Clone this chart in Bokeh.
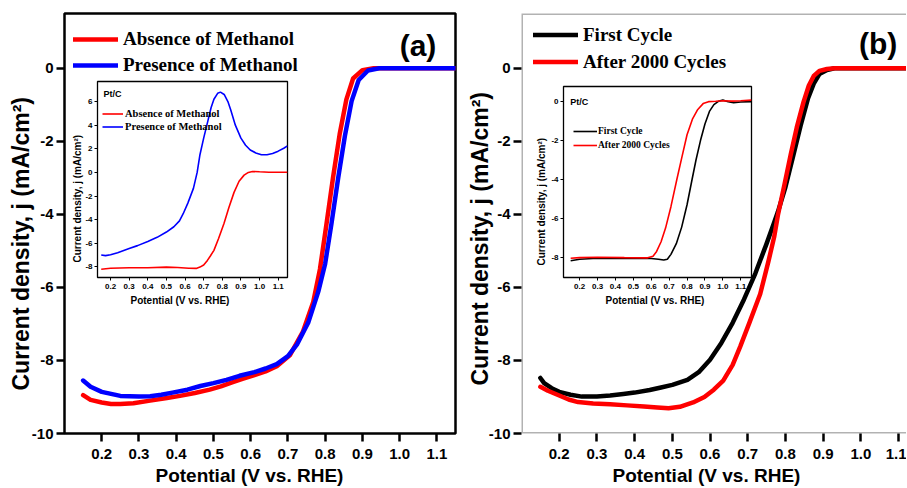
from bokeh.plotting import figure
from bokeh.models import GridBox, Legend, LegendItem, Label, FixedTicker, BoxAnnotation, Title
from bokeh.embed import file_html
from bokeh.resources import INLINE

# ---------------- data: panel (a) main ----------------
a_abs_x = [0.15, 0.17, 0.20, 0.225, 0.25, 0.285, 0.33, 0.375, 0.41, 0.45, 0.49, 0.52, 0.55, 0.58, 0.61,
           0.64, 0.67, 0.705, 0.74, 0.768, 0.786, 0.803, 0.821, 0.839, 0.857, 0.875, 0.90, 0.93, 1.00, 1.08, 1.15]
a_abs_y = [-8.95, -9.08, -9.15, -9.19, -9.19, -9.17, -9.10, -9.03, -8.97, -8.89, -8.80, -8.71, -8.60, -8.50, -8.40,
           -8.30, -8.16, -7.86, -7.22, -6.40, -5.50, -4.30, -3.00, -1.80, -0.85, -0.28, -0.05, 0.0, 0.0, 0.0, 0.0]
a_pre_x = [0.15, 0.17, 0.20, 0.25, 0.30, 0.33, 0.36, 0.39, 0.43, 0.465, 0.50, 0.535, 0.57, 0.61, 0.64,
           0.67, 0.70, 0.725, 0.755, 0.782, 0.80, 0.817, 0.835, 0.853, 0.871, 0.89, 0.915, 0.945, 1.00, 1.08, 1.15]
a_pre_y = [-8.55, -8.72, -8.86, -8.97, -8.99, -8.98, -8.94, -8.88, -8.80, -8.70, -8.62, -8.53, -8.42, -8.32, -8.22,
           -8.10, -7.88, -7.55, -6.95, -6.10, -5.35, -4.25, -3.00, -1.85, -0.90, -0.32, -0.06, 0.0, 0.0, 0.0, 0.0]

# ---------------- data: panel (a) inset ----------------
ai_abs_x = [0.15, 0.20, 0.30, 0.40, 0.50, 0.56, 0.62, 0.66, 0.68, 0.70, 0.72, 0.735, 0.755, 0.78, 0.809,
            0.835, 0.863, 0.89, 0.917, 0.94, 0.962, 1.00, 1.05, 1.10, 1.15]
ai_abs_y = [-8.20, -8.12, -8.07, -8.07, -8.02, -8.05, -8.12, -8.13, -8.02, -7.84, -7.45, -7.10, -6.60, -5.60, -4.33,
            -3.00, -1.69, -0.75, -0.23, 0.00, 0.08, 0.05, 0.02, 0.02, 0.02]
ai_pre_x = [0.15, 0.173, 0.20, 0.238, 0.30, 0.345, 0.40, 0.45, 0.50, 0.54, 0.57, 0.59, 0.615, 0.645, 0.665,
            0.68, 0.70, 0.72, 0.74, 0.755, 0.775, 0.79, 0.81, 0.83, 0.845, 0.87, 0.90, 0.925, 0.95, 0.98,
            1.01, 1.04, 1.07, 1.10, 1.13, 1.15]
ai_pre_y = [-7.00, -7.05, -6.98, -6.80, -6.45, -6.20, -5.85, -5.50, -5.05, -4.60, -4.10, -3.50, -2.60, -1.35, 0.00,
            1.50, 2.90, 4.20, 5.50, 6.20, 6.70, 6.80, 6.60, 6.00, 5.30, 4.00, 2.90, 2.30, 1.90, 1.65,
            1.50, 1.50, 1.60, 1.80, 2.05, 2.25]

# ---------------- data: panel (b) main ----------------
b_first_x = [0.15, 0.16, 0.18, 0.20, 0.23, 0.26, 0.30, 0.335, 0.37, 0.40, 0.44, 0.47, 0.50, 0.54, 0.57,
             0.60, 0.63, 0.66, 0.69, 0.72, 0.75, 0.77, 0.78, 0.80, 0.82, 0.84, 0.86, 0.875, 0.89, 0.91,
             0.93, 1.00, 1.13]
b_first_y = [-8.48, -8.62, -8.76, -8.86, -8.94, -8.99, -8.99, -8.96, -8.92, -8.88, -8.81, -8.74, -8.67, -8.53, -8.32,
             -7.98, -7.52, -6.97, -6.33, -5.62, -4.80, -4.22, -3.93, -3.25, -2.42, -1.58, -0.82, -0.42, -0.16, -0.05,
             0.0, 0.0, 0.0]
b_after_x = [0.15, 0.17, 0.20, 0.225, 0.25, 0.29, 0.335, 0.38, 0.425, 0.46, 0.49, 0.52, 0.555, 0.585, 0.61,
             0.635, 0.66, 0.68, 0.705, 0.733, 0.755, 0.77, 0.78, 0.797, 0.814, 0.83, 0.848, 0.862, 0.875, 0.89,
             0.91, 0.93, 1.00, 1.13]
b_after_y = [-8.72, -8.83, -8.96, -9.07, -9.14, -9.18, -9.20, -9.23, -9.26, -9.29, -9.31, -9.27, -9.15, -9.00, -8.80,
             -8.55, -8.12, -7.62, -6.95, -6.18, -5.28, -4.62, -4.02, -3.20, -2.36, -1.62, -0.92, -0.47, -0.21, -0.07,
             -0.02, 0.0, 0.0, 0.0]

# ---------------- data: panel (b) inset ----------------
bi_first_x = [0.15, 0.20, 0.30, 0.45, 0.60, 0.64, 0.67, 0.69, 0.71, 0.74, 0.77, 0.80, 0.828, 0.85, 0.875,
              0.90, 0.925, 0.95, 0.975, 1.00, 1.03, 1.06, 1.10, 1.16]
bi_first_y = [-8.18, -8.10, -8.05, -8.06, -8.06, -8.10, -8.14, -8.10, -7.85, -7.30, -6.45, -5.30, -4.00, -3.00, -2.00,
              -1.15, -0.50, -0.15, 0.02, 0.08, 0.00, -0.05, -0.02, 0.00]
bi_after_x = [0.15, 0.20, 0.30, 0.45, 0.58, 0.61, 0.63, 0.655, 0.68, 0.71, 0.743, 0.77, 0.80, 0.83, 0.86,
              0.89, 0.92, 0.96, 1.00, 1.05, 1.10, 1.16]
bi_after_y = [-8.05, -8.02, -8.00, -8.02, -8.03, -7.95, -7.70, -7.20, -6.50, -5.40, -4.00, -2.90, -1.70, -0.90, -0.40,
              -0.10, 0.00, 0.02, 0.05, 0.03, 0.05, 0.08]

# ---------------- ticks / labels ----------------
x_ticks = [0.2, 0.3, 0.4, 0.5, 0.6, 0.7, 0.8, 0.9, 1.0, 1.1]
x_tick_labels = ["0.2", "0.3", "0.4", "0.5", "0.6", "0.7", "0.8", "0.9", "1.0", "1.1"]
main_y_ticks = [-10, -8, -6, -4, -2, 0]
main_y_labels = ["-10", "-8", "-6", "-4", "-2", "0"]
ia_y_ticks = [-8, -6, -4, -2, 0, 2, 4, 6]
ia_y_labels = ["-8", "-6", "-4", "-2", "0", "2", "4", "6"]
ib_y_ticks = [-8, -6, -4, -2, 0]
ib_y_labels = ["-8", "-6", "-4", "-2", "0"]

x_title = "Potential (V vs. RHE)"
y_title = "Current density, j (mA/cm\u00b2)"
legend_a = ["Absence of Methanol", "Presence of Methanol"]
legend_b = ["First Cycle", "After 2000 Cycles"]

RED = "#ff0000"
BLUE = "#0000ff"
BLACK = "#000000"
SANS = "Liberation Sans"
SERIF = "Liberation Serif"


def make_fig(w, h, xr, yr, bl, br, bt, bb):
    p = figure(width=w, height=h, x_range=xr, y_range=yr, output_backend="svg",
               toolbar_location=None, title_location=None, min_border_left=bl, min_border_right=br,
               min_border_top=bt, min_border_bottom=bb)
    p.grid.visible = False
    p.background_fill_color = "white"
    return p


def set_axis(ax, ticks, labels, tick_size, tick_out, tick_w, maj_standoff):
    ax.ticker = FixedTicker(ticks=ticks)
    ax.major_label_overrides = {t: l for t, l in zip(ticks, labels)}
    ax.axis_label = None
    ax.axis_line_color = None
    ax.major_tick_out = tick_out
    ax.major_tick_in = 0
    ax.major_tick_line_width = tick_w
    ax.major_tick_line_color = BLACK
    ax.minor_tick_line_color = None
    ax.major_label_text_font = SANS
    ax.major_label_text_font_style = "bold"
    ax.major_label_text_font_size = tick_size
    ax.major_label_text_color = BLACK
    ax.major_label_standoff = maj_standoff


def add_title(p, text, side, size, offset, standoff):
    p.add_layout(Title(text=text, align="left", offset=offset, standoff=standoff,
                       text_font=SANS, text_font_style="bold", text_font_size=size,
                       text_color=BLACK), side)


def add_legend(p, renderers, labels, loc, gw, h, standoff, size):
    leg = Legend(items=[LegendItem(label=l, renderers=[r]) for l, r in zip(labels, renderers)],
                 location=loc, orientation="vertical", padding=0, margin=0, spacing=0,
                 glyph_width=gw, glyph_height=h, label_height=h, label_standoff=standoff,
                 label_text_font=SERIF, label_text_font_style="bold", label_text_font_size=size,
                 label_text_color=BLACK, border_line_color=None, background_fill_alpha=0)
    p.add_layout(leg)


# ================= panel (a) main =================
pa = make_fig(462, 487, (0.1, 1.15), (-10, 1.5), 64, 7, 13, 54)
pa.outline_line_color = BLACK
pa.outline_line_width = 2.5
set_axis(pa.xaxis[0], x_ticks, x_tick_labels, "15px", 8, 2.5, 7)
set_axis(pa.yaxis[0], main_y_ticks, main_y_labels, "15px", 8, 2.5, 3)
add_title(pa, x_title, "below", "19px", 91, 3)
add_title(pa, y_title, "left", "23px", 43, -10)
ra1 = pa.line(a_abs_x, a_abs_y, line_color=RED, line_width=4.5, line_cap="round", line_join="round")
ra2 = pa.line(a_pre_x, a_pre_y, line_color=BLUE, line_width=4.5, line_cap="round", line_join="round")
add_legend(pa, [ra1, ra2], legend_a, (9, 355), 45, 26, 5, "19px")
pa.add_layout(Label(x=1.0, y=0.62, text="(a)", text_font=SANS, text_font_style="bold",
                    text_font_size="30px", text_baseline="middle", text_align="left", text_color=BLACK))

# ================= panel (a) inset =================
ia = make_fig(224, 233, (0.13, 1.15), (-8.9, 7.7), 29, 5, 2, 35)
ia.border_fill_alpha = 0
ia.outline_line_color = BLACK
ia.outline_line_width = 1.3
set_axis(ia.xaxis[0], x_ticks, x_tick_labels, "8px", 3, 1, 3)
set_axis(ia.yaxis[0], ia_y_ticks, ia_y_labels, "8px", 3, 1, 2)
add_title(ia, x_title, "below", "10px", 33, 3)
add_title(ia, y_title, "left", "10px", 15, 0)
ria1 = ia.line(ai_abs_x, ai_abs_y, line_color=RED, line_width=1.6)
ria2 = ia.line(ai_pre_x, ai_pre_y, line_color=BLUE, line_width=1.6)
add_legend(ia, [ria1, ria2], legend_a, (5, 144), 21, 13, 2, "10.5px")
ia.add_layout(Label(x=0.162, y=6.65, text="Pt/C", text_font=SANS, text_font_style="bold",
                    text_font_size="9px", text_baseline="middle", text_align="left", text_color=BLACK))

# ================= panel (b) main =================
pb = make_fig(444, 487, (0.1, 1.121), (-10, 1.5), 59, 0, 13, 54)
pb.outline_line_color = None
set_axis(pb.xaxis[0], x_ticks, x_tick_labels, "15px", 8, 2.5, 7)
set_axis(pb.yaxis[0], main_y_ticks, main_y_labels, "15px", 8, 2.5, 3)
add_title(pb, x_title, "below", "19px", 91, 3)
add_title(pb, y_title, "left", "23px", 48, -14)
pb.add_layout(BoxAnnotation(left=0.1, right=1.4, bottom=-10, top=1.5, fill_alpha=0,
                            line_color=BLACK, line_width=3, level="overlay"))
rb1 = pb.line(b_first_x, b_first_y, line_color=BLACK, line_width=4.5, line_cap="round", line_join="round")
rb2 = pb.line(b_after_x, b_after_y, line_color=RED, line_width=4.5, line_cap="round", line_join="round")
add_legend(pb, [rb1, rb2], legend_b, (12, 358), 45, 27, 5, "19px")
pb.add_layout(Label(x=0.995, y=0.69, text="(b)", text_font=SANS, text_font_style="bold",
                    text_font_size="30px", text_baseline="middle", text_align="left", text_color=BLACK))

# ================= panel (b) inset =================
ib = make_fig(224, 228, (0.11, 1.16), (-9.04, 0.78), 26, 5, 2, 35)
ib.border_fill_alpha = 0
ib.outline_line_color = BLACK
ib.outline_line_width = 1.3
set_axis(ib.xaxis[0], x_ticks, x_tick_labels, "8px", 3, 1, 3)
set_axis(ib.yaxis[0], ib_y_ticks, ib_y_labels, "8px", 3, 1, 2)
add_title(ib, x_title, "below", "10px", 42, 3)
add_title(ib, y_title, "left", "10px", 12, 3)
rib1 = ib.line(bi_first_x, bi_first_y, line_color=BLACK, line_width=1.6)
rib2 = ib.line(bi_after_x, bi_after_y, line_color=RED, line_width=1.6)
add_legend(ib, [rib1, rib2], legend_b, (10, 125), 24, 14, 1, "9.5px")
ib.add_layout(Label(x=0.148, y=0.0, text="Pt/C", text_font=SANS, text_font_style="bold",
                    text_font_size="9px", text_baseline="middle", text_align="left", text_color=BLACK))

grid = GridBox(children=[(pa, 0, 0, 4, 3), (ia, 1, 1, 2, 1), (pb, 0, 3, 4, 3), (ib, 2, 4, 1, 1)],
               rows=["79px", "5px", "228px", "175px"],
               cols=["68px", "224px", "170px", "70px", "224px", "150px"])

open("out.html", "w").write(file_html(grid, INLINE))
